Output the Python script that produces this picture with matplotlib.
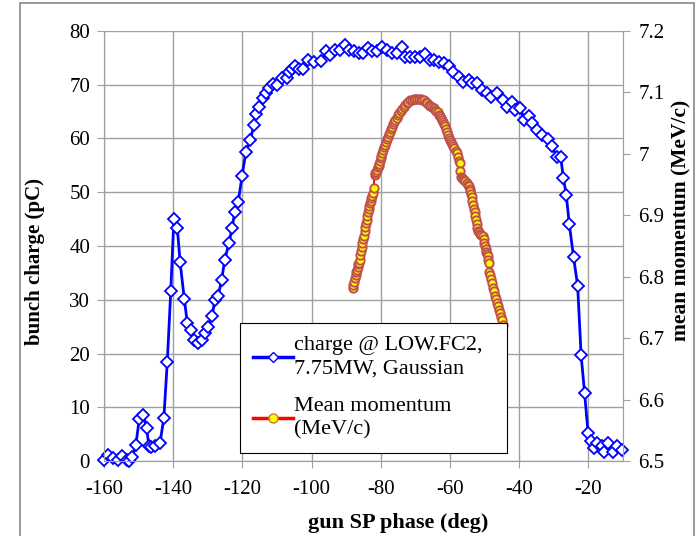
import matplotlib.pyplot as plt
from matplotlib.patches import Rectangle
from matplotlib.lines import Line2D

plt.rcParams['font.family'] = ['Liberation Serif', 'DejaVu Serif']
plt.rcParams['axes.unicode_minus'] = False

# charge @ LOW.FC2 (pC) vs gun SP phase (deg)
charge_phase = [-160, -158.8, -157.3, -155.9, -154.7, -153.4, -152.9, -151.8, -150.8, -149.8,
                -148.6, -147.7, -147.0, -146.3, -145.3, -143.8, -142.7, -141.7, -140.7, -139.8,
                -138.8, -138.0, -136.8, -135.9, -134.9, -134.0, -132.9, -131.8, -130.8, -129.9,
                -128.7, -128.0, -127.0, -126.0, -125.1, -123.9, -123.0, -122.2, -121.2, -120.1,
                -119.0, -117.8, -116.6, -116.0, -115.1, -114.1, -113.1, -112.2, -111.2, -109.9,
                -108.6, -107.2, -106.5, -105.7, -104.7, -103.5, -102.5, -100.9, -99.3, -97.3,
                -95.8, -94.6, -93.2, -91.9, -90.3, -89.3, -87.7, -86.4, -85.0, -83.8,
                -82.6, -81.1, -79.7, -78.2, -76.8, -75.3, -73.9, -72.9, -71.5, -70.1,
                -68.6, -67.1, -65.9, -64.7, -63.3, -61.8, -60.4, -59.0, -57.5, -56.1,
                -54.6, -53.6, -52.2, -50.8, -49.3, -48.2, -46.4, -44.7, -43.4, -42.1,
                -41.1, -39.7, -38.5, -37.3, -36.3, -34.9, -33.4, -31.8, -30.6, -29.1,
                -28.0, -27.2, -26.4, -25.5, -24.3, -23.1, -22.1, -21.1, -20.1, -19.2,
                -18.4, -17.5, -16.2, -15.4, -14.2, -12.9, -11.6, -10.3]
charge_pc = [0.2, 1.1, 0.6, 0.2, 1.0, 0.2, 0.0, 0.8, 3.0, 7.8,
             8.6, 6.1, 2.8, 2.6, 2.7, 3.4, 8.0, 18.5, 31.6, 45.0,
             43.3, 37.0, 30.2, 25.6, 24.3, 22.5, 21.9, 22.5, 23.9, 25.0,
             26.9, 30.0, 30.7, 33.7, 37.4, 40.5, 43.3, 46.3, 48.2, 53.0,
             57.5, 59.7, 62.5, 64.5, 65.9, 67.5, 68.4, 69.3, 70.1, 70.0,
             71.2, 71.2, 72.3, 73.0, 73.4, 72.9, 73.0, 74.6, 74.2, 74.4,
             76.2, 75.5, 76.5, 76.5, 77.4, 76.5, 76.2, 75.9, 75.9, 76.8,
             76.2, 76.2, 77.1, 76.5, 75.9, 75.9, 77.1, 75.1, 75.1, 75.2,
             75.2, 75.7, 74.6, 74.6, 74.3, 74.0, 73.4, 72.4, 71.5, 70.6,
             70.9, 70.3, 70.4, 69.1, 68.4, 67.7, 68.4, 67.2, 65.9, 66.7,
             65.3, 65.6, 63.4, 64.1, 62.9, 61.6, 60.7, 59.9, 58.6, 56.6,
             56.5, 52.6, 49.5, 44.0, 38.0, 32.6, 19.7, 12.7, 5.3, 3.7,
             2.4, 3.3, 2.7, 1.6, 3.3, 1.6, 2.7, 2.0]

# mean momentum (MeV/c)
mom_phase = [-88.1, -87.9, -87.7, -87.5, -87.3, -87.1, -86.9, -86.7, -86.5, -86.3,
             -86.1, -85.9, -85.7, -85.5, -85.3, -85.1, -84.9, -84.7, -84.5, -84.3,
             -84.1, -83.9, -83.7, -83.5, -83.3, -83.1, -82.9, -82.7, -82.5, -82.3,
             -82.1, -81.8, -81.6, -81.4, -81.1, -80.8, -80.6, -80.4, -80.2, -80.0,
             -79.8, -79.6, -79.4, -79.1, -78.9, -78.6, -78.3, -78.0, -77.7, -77.4,
             -77.1, -76.8, -76.5, -76.1, -75.8, -75.4, -75.0, -74.6, -74.2, -73.8,
             -73.4, -73.0, -72.5, -72.0, -71.5, -71.0, -70.5, -70.0, -69.5, -69.0,
             -68.5, -68.0, -67.5, -67.0, -66.6, -66.2, -65.7, -65.2, -64.7, -64.3,
             -63.9, -63.6, -63.3, -63.0, -62.7, -62.4, -62.1, -61.8, -61.5, -61.2,
             -60.9, -60.6, -60.3, -60.0, -59.7, -59.4, -59.0, -58.7, -58.4, -58.0,
             -57.7, -57.4, -57.2, -57.0, -56.8, -56.5, -56.2, -55.9, -55.6, -55.2,
             -54.9, -54.6, -54.3, -54.1, -53.9, -53.7, -53.5, -53.3, -53.1, -52.9,
             -52.7, -52.5, -52.3, -52.1, -51.8, -51.5, -51.2, -50.9, -50.6, -50.3,
             -50.1, -49.9, -49.7, -49.5, -49.3, -49.1, -48.9, -48.8, -48.6, -48.4,
             -48.1, -47.9, -47.6, -47.3, -47.0, -46.7, -46.4, -46.1, -45.8, -45.5,
             -45.2, -45.0, -44.6]
mom_mev = [6.781, 6.786, 6.792, 6.798, 6.803, 6.807, 6.811, 6.815, 6.820, 6.823,
           6.828, 6.835, 6.842, 6.849, 6.855, 6.861, 6.867, 6.874, 6.881, 6.887,
           6.893, 6.899, 6.905, 6.910, 6.915, 6.920, 6.924, 6.928, 6.932, 6.937,
           6.944, 6.966, 6.969, 6.971, 6.974, 6.978, 6.980, 6.983, 6.988, 6.993,
           6.997, 7.002, 7.006, 7.011, 7.015, 7.019, 7.024, 7.028, 7.032, 7.036,
           7.040, 7.044, 7.048, 7.052, 7.055, 7.059, 7.063, 7.066, 7.070, 7.073,
           7.077, 7.080, 7.083, 7.085, 7.087, 7.088, 7.089, 7.090, 7.090, 7.090,
           7.089, 7.088, 7.087, 7.085, 7.083, 7.080, 7.078, 7.076, 7.074, 7.072,
           7.070, 7.068, 7.064, 7.061, 7.058, 7.055, 7.052, 7.049, 7.045, 7.040,
           7.035, 7.030, 7.026, 7.022, 7.019, 7.016, 7.013, 7.009, 7.005, 7.001,
           6.995, 6.989, 6.985, 6.972, 6.962, 6.960, 6.959, 6.958, 6.956, 6.953,
           6.950, 6.947, 6.943, 6.939, 6.934, 6.929, 6.923, 6.917, 6.911, 6.905,
           6.899, 6.892, 6.885, 6.879, 6.875, 6.872, 6.870, 6.868, 6.866, 6.861,
           6.855, 6.850, 6.845, 6.841, 6.837, 6.833, 6.828, 6.823, 6.808, 6.803,
           6.796, 6.790, 6.782, 6.776, 6.769, 6.763, 6.758, 6.752, 6.746, 6.741,
           6.735, 6.730, 6.722]

x_ticks = [-160, -140, -120, -100, -80, -60, -40, -20]

fig = plt.figure(figsize=(6.97, 5.36), dpi=100)
ax = fig.add_axes([0.1492, 0.1399, 0.7446, 0.8023])
ax2 = ax.twinx()

axis_col = '#A0A0A0'

ax.plot(charge_phase, charge_pc, color='#0000FF', lw=2, marker='D', ms=5.8,
        mfc='white', mec='#0000FF', mew=1.3, zorder=3, clip_on=False)
ax2.plot(mom_phase, mom_mev, color='#FF0000', lw=1.5, marker='o', ms=6,
         mfc='#FFFF00', mec='#C0504D', mew=1.4, zorder=3)

ax.set_xlim(-160, -10)
ax.set_ylim(0, 80)
ax2.set_ylim(6.5, 7.2)
ax.set_xticks(x_ticks)
ax.set_yticks(range(0, 81, 10))
ax2.set_yticks([6.5, 6.6, 6.7, 6.8, 6.9, 7.0, 7.1, 7.2])
ax2.set_yticklabels(['6.5', '6.6', '6.7', '6.8', '6.9', '7', '7.1', '7.2'])

ax.grid(True, color=axis_col, lw=1)
ax.set_axisbelow(True)
for a in (ax, ax2):
    a.spines['top'].set_visible(False)
    for s in ('left', 'right', 'bottom'):
        a.spines[s].set_color(axis_col)
    a.tick_params(colors=axis_col, labelcolor='black', labelsize=15, length=5, direction='out')

ax.tick_params(axis='x', pad=9)
ax.tick_params(axis='y', pad=5)
ax2.tick_params(axis='y', pad=6)
ax.set_xlabel('gun SP phase (deg)', fontsize=16, fontweight='bold')
ax.set_ylabel('bunch charge (pC)', fontsize=15, fontweight='bold')
ax2.set_ylabel('mean momentum (MeV/c)', fontsize=15.5, fontweight='bold')
ax.xaxis.set_label_coords(0.566, -0.122)
ax.yaxis.set_label_coords(-0.114, 0.463)
ax2.yaxis.set_label_coords(1.0925, 0.56)

handles = [
    Line2D([], [], color='#0000FF', lw=2.5, marker='D', ms=5, mfc='white', mec='#0000FF', mew=1),
    Line2D([], [], color='#FF0000', lw=2.5, marker='o', ms=6.5, mfc='#FFFF00', mec='#E07020', mew=1),
]
labels = ['charge @ LOW.FC2,  \n7.75MW, Gaussian', 'Mean momentum\n(MeV/c)']
leg = ax2.legend(handles, labels, loc='upper left', bbox_to_anchor=(0.262, 0.321),
                 fontsize=16, frameon=True, fancybox=False, framealpha=1,
                 edgecolor='black', handlelength=1.8, handletextpad=0.05,
                 labelspacing=0.85, borderpad=0.6, borderaxespad=0)
leg.get_frame().set_linewidth(0.8)
leg.set_zorder(10)
for t in leg.get_texts():
    t.set_linespacing(1.3)

fig.patches.append(Rectangle((20 / 697, -0.05), 674 / 697, 1.05 - 3 / 536,
                             transform=fig.transFigure, fill=False,
                             edgecolor='#888888', lw=1.2))

fig.savefig('out.png', dpi=100)
